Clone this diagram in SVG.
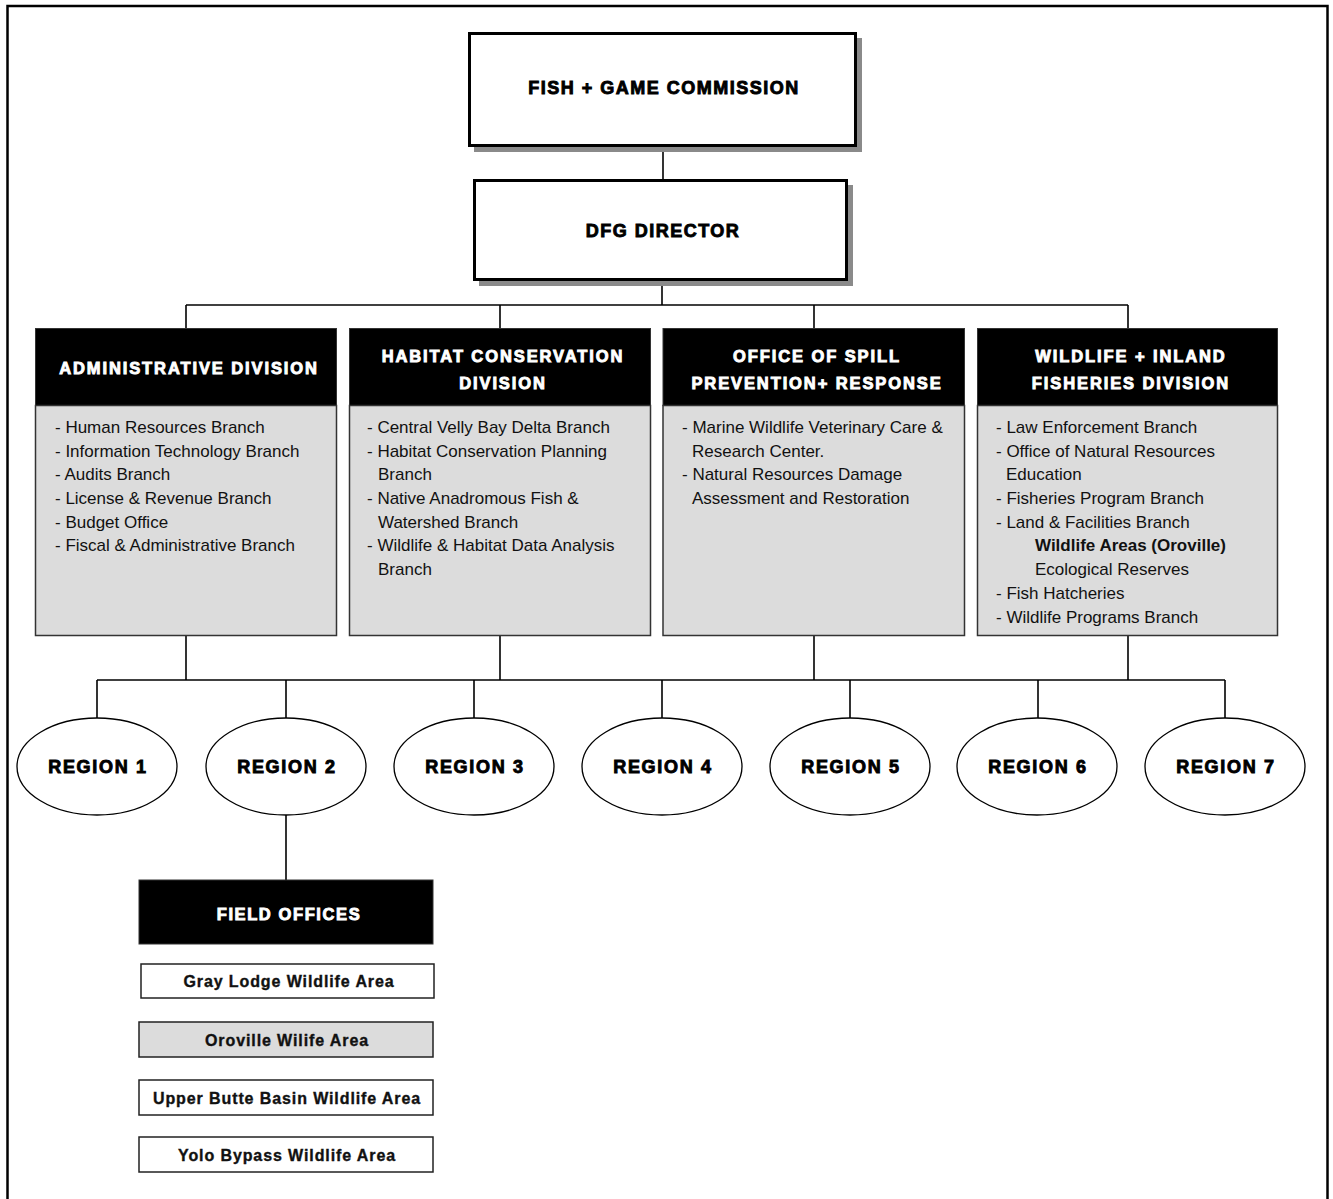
<svg xmlns="http://www.w3.org/2000/svg" width="1333" height="1199" viewBox="0 0 1333 1199">
<style>
.bg{fill:#ffffff}
.frame{fill:none;stroke:#000;stroke-width:2.5}
.top{fill:#fff;stroke:#000;stroke-width:3}
.shadow{fill:#8a8a8a}
.hdr{fill:#000;stroke:#333;stroke-width:1}
.body{fill:#dcdcdc;stroke:#333;stroke-width:1.5}
.item{fill:#fff;stroke:#222;stroke-width:1.5}
.itemg{fill:#dcdcdc;stroke:#222;stroke-width:1.5}
.reg{fill:#fff;stroke:#000;stroke-width:1.3}
.con line{stroke:#000;stroke-width:1.6}
.tt{font-family:"Liberation Sans",Arial,sans-serif;font-weight:bold;font-size:18px;letter-spacing:1.5px;fill:#000;stroke:#000;stroke-width:0.9;text-anchor:middle}
.ht{font-family:"Liberation Sans",Arial,sans-serif;font-weight:bold;font-size:16.5px;letter-spacing:1.9px;fill:#fff;stroke:#fff;stroke-width:0.9;text-anchor:middle}
.rt{font-family:"Liberation Sans",Arial,sans-serif;font-weight:bold;font-size:18px;letter-spacing:1.7px;fill:#000;stroke:#000;stroke-width:0.9;text-anchor:middle}
.bt{font-family:"Liberation Sans",Arial,sans-serif;font-size:17px;fill:#111}
.bb{font-family:"Liberation Sans",Arial,sans-serif;font-size:17px;font-weight:bold;fill:#111}
.it{font-family:"Liberation Sans",Arial,sans-serif;font-weight:bold;font-size:16px;letter-spacing:0.9px;fill:#111;stroke:#111;stroke-width:0.35;text-anchor:middle}
</style>
<rect class="bg" x="0" y="0" width="1333" height="1199"/>
<rect class="frame" x="7.5" y="6" width="1320" height="1300"/>

<g id="connectors" class="con">
<line x1="663" y1="147" x2="663" y2="179"/>
<line x1="662" y1="281" x2="662" y2="305"/>
<line x1="186" y1="305" x2="1128" y2="305"/>
<line x1="186" y1="305" x2="186" y2="328"/>
<line x1="500" y1="305" x2="500" y2="328"/>
<line x1="814" y1="305" x2="814" y2="328"/>
<line x1="1128" y1="305" x2="1128" y2="328"/>
<line x1="186" y1="636" x2="186" y2="680"/>
<line x1="500" y1="636" x2="500" y2="680"/>
<line x1="814" y1="636" x2="814" y2="680"/>
<line x1="1128" y1="636" x2="1128" y2="680"/>
<line x1="97" y1="680" x2="1225" y2="680"/>
<line x1="97" y1="680" x2="97" y2="718"/>
<line x1="286" y1="680" x2="286" y2="718"/>
<line x1="474" y1="680" x2="474" y2="718"/>
<line x1="662" y1="680" x2="662" y2="718"/>
<line x1="850" y1="680" x2="850" y2="718"/>
<line x1="1038" y1="680" x2="1038" y2="718"/>
<line x1="1225" y1="680" x2="1225" y2="718"/>
<line x1="286" y1="815" x2="286" y2="880"/>
</g>

<g id="commission">
<rect class="shadow" x="474" y="38" width="388" height="114"/>
<rect class="top" x="469.5" y="33.5" width="386" height="112"/>
<text class="tt" x="664" y="94">FISH + GAME COMMISSION</text>
</g>

<g id="director">
<rect class="shadow" x="479" y="185" width="374" height="101"/>
<rect class="top" x="474.5" y="180.5" width="372" height="99"/>
<text class="tt" x="663" y="237">DFG DIRECTOR</text>
</g>

<g id="admin">
<rect class="hdr" x="35.5" y="328.5" width="301" height="77"/>
<rect class="body" x="35.5" y="405.5" width="301" height="230"/>
<text class="ht" x="189" y="374">ADMINISTRATIVE DIVISION</text>
<text class="bt" x="55" y="433">- Human Resources Branch</text>
<text class="bt" x="55" y="457">- Information Technology Branch</text>
<text class="bt" x="55" y="480">- Audits Branch</text>
<text class="bt" x="55" y="504">- License &amp; Revenue Branch</text>
<text class="bt" x="55" y="528">- Budget Office</text>
<text class="bt" x="55" y="551">- Fiscal &amp; Administrative Branch</text>
</g>

<g id="habitat">
<rect class="hdr" x="349.5" y="328.5" width="301" height="77"/>
<rect class="body" x="349.5" y="405.5" width="301" height="230"/>
<text class="ht" x="503" y="362">HABITAT CONSERVATION</text>
<text class="ht" x="503" y="389">DIVISION</text>
<text class="bt" x="367" y="433">- Central Velly Bay Delta Branch</text>
<text class="bt" x="367" y="457">- Habitat Conservation Planning</text>
<text class="bt" x="378" y="480">Branch</text>
<text class="bt" x="367" y="504">- Native Anadromous Fish &amp;</text>
<text class="bt" x="378" y="528">Watershed Branch</text>
<text class="bt" x="367" y="551">- Wildlife &amp; Habitat Data Analysis</text>
<text class="bt" x="378" y="575">Branch</text>
</g>

<g id="spill">
<rect class="hdr" x="663" y="328.5" width="301.5" height="77"/>
<rect class="body" x="663" y="405.5" width="301.5" height="230"/>
<text class="ht" x="817" y="362">OFFICE OF SPILL</text>
<text class="ht" x="817" y="389">PREVENTION+ RESPONSE</text>
<text class="bt" x="682" y="433">- Marine Wildlife Veterinary Care &amp;</text>
<text class="bt" x="692" y="457">Research Center.</text>
<text class="bt" x="682" y="480">- Natural Resources Damage</text>
<text class="bt" x="692" y="504">Assessment and Restoration</text>
</g>

<g id="wildlife">
<rect class="hdr" x="977.5" y="328.5" width="300" height="77"/>
<rect class="body" x="977.5" y="405.5" width="300" height="230"/>
<text class="ht" x="1131" y="362">WILDLIFE + INLAND</text>
<text class="ht" x="1131" y="389">FISHERIES DIVISION</text>
<text class="bt" x="996" y="433">- Law  Enforcement Branch</text>
<text class="bt" x="996" y="457">- Office of Natural Resources</text>
<text class="bt" x="1006" y="480">Education</text>
<text class="bt" x="996" y="504">- Fisheries Program Branch</text>
<text class="bt" x="996" y="528">- Land &amp; Facilities Branch</text>
<text class="bb" x="1035" y="551">Wildlife Areas (Oroville)</text>
<text class="bt" x="1035" y="575">Ecological Reserves</text>
<text class="bt" x="996" y="599">- Fish Hatcheries</text>
<text class="bt" x="996" y="623">- Wildlife Programs Branch</text>
</g>

<g id="region1"><ellipse class="reg" cx="97" cy="766.5" rx="80" ry="48.5"/><text class="rt" x="98" y="773">REGION 1</text></g>
<g id="region2"><ellipse class="reg" cx="286" cy="766.5" rx="80" ry="48.5"/><text class="rt" x="287" y="773">REGION 2</text></g>
<g id="region3"><ellipse class="reg" cx="474" cy="766.5" rx="80" ry="48.5"/><text class="rt" x="475" y="773">REGION 3</text></g>
<g id="region4"><ellipse class="reg" cx="662" cy="766.5" rx="80" ry="48.5"/><text class="rt" x="663" y="773">REGION 4</text></g>
<g id="region5"><ellipse class="reg" cx="850" cy="766.5" rx="80" ry="48.5"/><text class="rt" x="851" y="773">REGION 5</text></g>
<g id="region6"><ellipse class="reg" cx="1037" cy="766.5" rx="80" ry="48.5"/><text class="rt" x="1038" y="773">REGION 6</text></g>
<g id="region7"><ellipse class="reg" cx="1225" cy="766.5" rx="80" ry="48.5"/><text class="rt" x="1226" y="773">REGION 7</text></g>

<g id="field-offices">
<rect class="hdr" x="139" y="880" width="294" height="64"/>
<text class="ht" x="289" y="920" style="letter-spacing:1.6px">FIELD OFFICES</text>
</g>
<g id="gray-lodge">
<rect class="item" x="141" y="964" width="293" height="34"/>
<text class="it" x="289" y="987">Gray Lodge Wildlife Area</text>
</g>
<g id="oroville">
<rect class="itemg" x="139" y="1022" width="294" height="35"/>
<text class="it" x="287" y="1046">Oroville Wilife Area</text>
</g>
<g id="upper-butte">
<rect class="item" x="139" y="1080" width="294" height="35"/>
<text class="it" x="287" y="1104">Upper Butte Basin Wildlife Area</text>
</g>
<g id="yolo">
<rect class="item" x="139" y="1137" width="294" height="35"/>
<text class="it" x="287" y="1161">Yolo Bypass Wildlife Area</text>
</g>
</svg>
